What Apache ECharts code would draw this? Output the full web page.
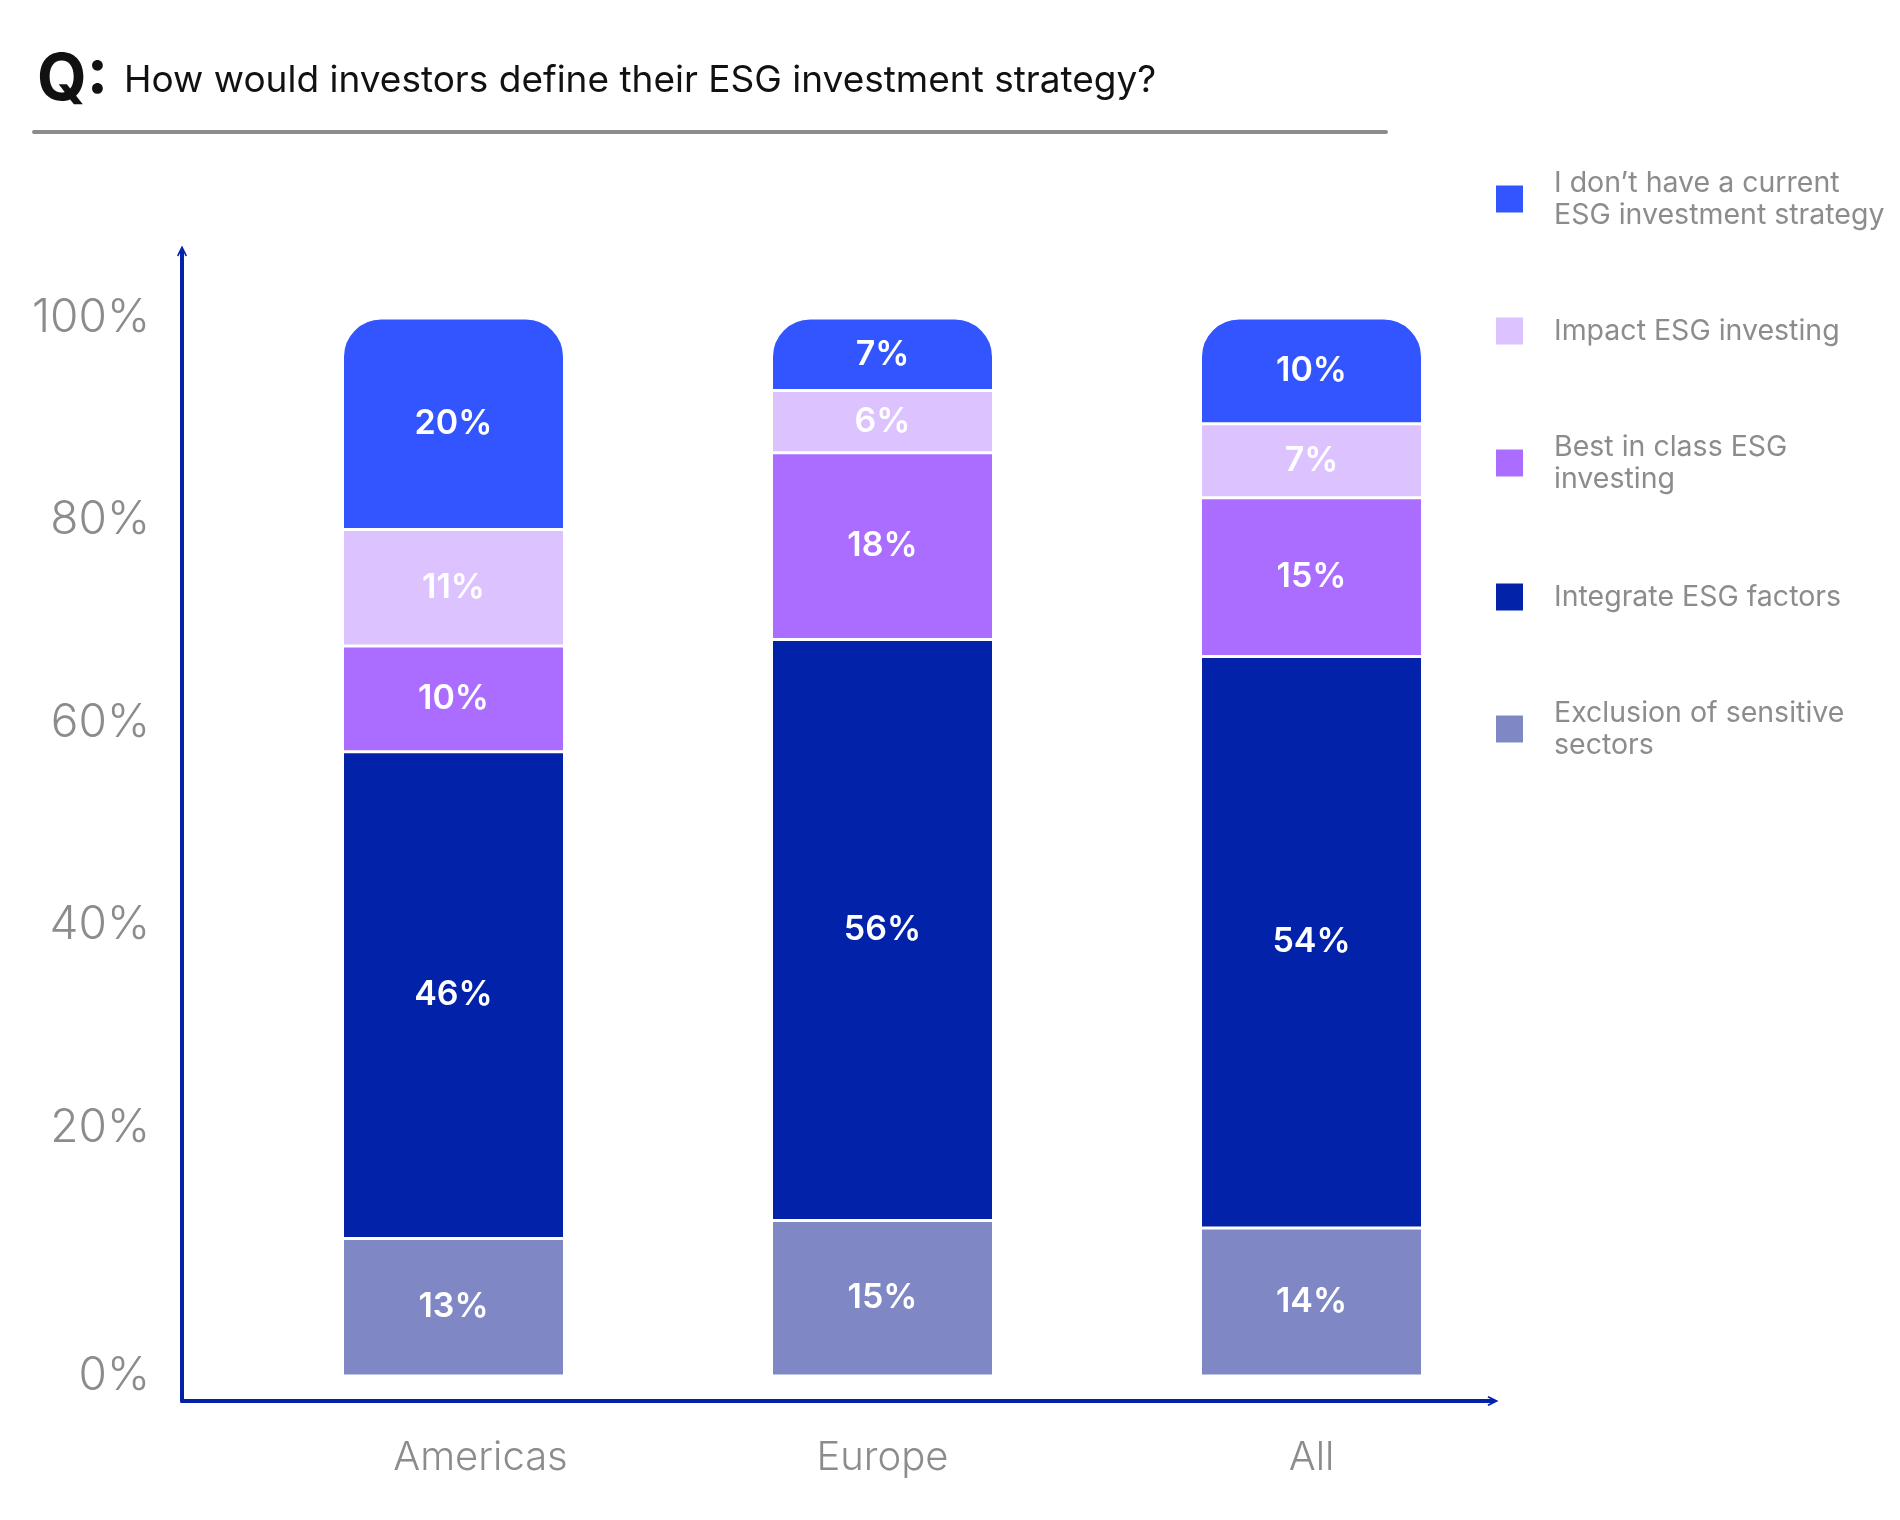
<!DOCTYPE html>
<html>
<head>
<meta charset="utf-8">
<script src="https://cdn.jsdelivr.net/npm/echarts@6/dist/echarts.min.js"></script>
<style>
html,body{margin:0;padding:0;background:#fff;}
#chart{width:1900px;height:1520px;}
</style>
</head>
<body>
<div id="chart"></div>
<script>
const categories = ['Americas', 'Europe', 'All'];
const seriesNames = [
  'Exclusion of sensitive\nsectors',
  'Integrate ESG factors',
  'Best in class ESG\ninvesting',
  'Impact ESG investing',
  'I don\u2019t have a current\nESG investment strategy'
];
const exclusion = [13, 15, 14];
const integrate = [46, 56, 54];
const bestInClass = [10, 18, 15];
const impact = [11, 6, 7];
const noStrategy = [20, 7, 10];
const yTicks = [0, 20, 40, 60, 80, 100];
const colors = ['#7f88c5', '#0222aa', '#ab6dff', '#dcc3ff', '#3355ff'];

const raw = [exclusion, integrate, bestInClass, impact, noStrategy];
const totals = categories.map((c, i) => raw.reduce((s, arr) => s + arr[i], 0));
const norm = raw.map(arr => arr.map((v, i) => v / totals[i] * 100));

const FONT = 'Inter, "Noto Sans", sans-serif';
const GRAY = '#8c8c8c';
const AXIS = '#0222aa';

const series = raw.map((arr, k) => ({
  name: seriesNames[k],
  type: 'bar',
  stack: 'total',
  xAxisIndex: 0,
  yAxisIndex: 0,
  barWidth: 222,
  data: norm[k],
  itemStyle: {
    color: colors[k],
    borderColor: '#ffffff',
    borderWidth: 1.5,
    borderRadius: k === raw.length - 1 ? [38, 38, 0, 0] : 0
  },
  label: {
    show: true,
    position: 'inside',
    color: '#ffffff',
    fontFamily: FONT,
    fontSize: 34,
    fontWeight: 600,
    formatter: p => raw[k][p.dataIndex] + '%'
  },
  emphasis: { disabled: true }
}));

// legend: one component per item, squares spaced evenly
const legendOrder = [4, 3, 2, 1, 0];
const legendCenters = [199, 331, 463, 597, 729];
const legendTextShift = [0, 0, 24, 0, 0];
const legends = legendOrder.map((k, j) => {
  const lines = seriesNames[k].split('\n').length;
  const h = lines * 32 + legendTextShift[j];
  return {
    data: [seriesNames[k]],
    orient: 'vertical',
    left: 1494,
    top: legendCenters[j] - h / 2,
    padding: 0,
    itemWidth: 29,
    itemHeight: 29,
    icon: 'rect',
    selectedMode: false,
    textStyle: {
      color: GRAY,
      fontFamily: FONT,
      fontSize: 28.5,
      lineHeight: 32,
      padding: [legendTextShift[j], 0, 0, 25]
    }
  };
});

const chevron = 'path://M0,10 L5,0 L10,10 L8.6,11 L5,3.6 L1.4,11 Z';

const option = {
  backgroundColor: '#ffffff',
  animation: false,
  title: {
    left: 32,
    top: 44,
    text: '{q|Q:}{t|How would investors define their ESG investment strategy?}',
    textStyle: {
      rich: {
        q: { fontFamily: FONT, fontSize: 64, fontWeight: 700, color: '#111111', padding: [0, 16, 0, 0] },
        t: { fontFamily: FONT, fontSize: 37, fontWeight: 400, color: '#111111' }
      }
    }
  },
  legend: legends,
  grid: [
    { left: 239, right: 374, top: 318, bottom: 144 },
    { left: 182, right: 407, top: 251, bottom: 119 }
  ],
  xAxis: [
    {
      type: 'category',
      gridIndex: 0,
      data: categories,
      axisLine: { show: false },
      axisTick: { show: false },
      axisLabel: {
        color: GRAY, fontFamily: FONT, fontSize: 40, fontWeight: 300, margin: 62,
        formatter: (v, i) => (i === 0 ? '{a|' + v + '}' : v),
        rich: { a: { color: GRAY, fontFamily: FONT, fontSize: 40, fontWeight: 300, padding: [0, 0, 0, 54] } }
      }
    },
    {
      type: 'value',
      gridIndex: 1,
      min: 0, max: 1,
      axisLine: { show: true, onZero: false, symbol: ['none', chevron], symbolSize: [14, 11], lineStyle: { color: AXIS, width: 4 } },
      axisTick: { show: false },
      axisLabel: { show: false },
      splitLine: { show: false }
    }
  ],
  yAxis: [
    {
      type: 'value',
      gridIndex: 0,
      min: 0, max: 100, interval: 20,
      axisLine: { show: false },
      axisTick: { show: false },
      splitLine: { show: false },
      axisLabel: { show: false }
    },
    {
      type: 'value',
      gridIndex: 1,
      position: 'left',
      min: 0, max: 1,
      axisLine: { show: true, onZero: false, symbol: ['none', chevron], symbolSize: [14, 11], lineStyle: { color: AXIS, width: 4 } },
      axisTick: { show: false },
      axisLabel: { show: false },
      splitLine: { show: false }
    },
    {
      // tick-label scale as printed in the source (labels 20–100 evenly spaced from the top, 0% at the base)
      type: 'value',
      gridIndex: 0,
      position: 'left',
      offset: 0,
      min: -4.5, max: 100,
      axisLine: { show: false },
      axisTick: { show: false },
      splitLine: { show: false },
      axisLabel: {
        customValues: yTicks,
        color: GRAY, fontFamily: FONT, fontSize: 46, fontWeight: 300, margin: 89,
        formatter: v => (v === 0 ? '{z|0%}' : v + '%'),
        rich: { z: { color: GRAY, fontFamily: FONT, fontSize: 46, fontWeight: 300, padding: [92, 0, 0, 0] } }
      }
    }
  ],
  graphic: [
    {
      type: 'line',
      shape: { x1: 34, y1: 132, x2: 1386, y2: 132 },
      style: { stroke: '#8c8c8c', lineWidth: 4, lineCap: 'round' }
    }
  ],
  series: series
};

const chart = echarts.init(document.getElementById('chart'), null, { renderer: 'canvas' });
chart.setOption(option);
</script>
</body>
</html>
